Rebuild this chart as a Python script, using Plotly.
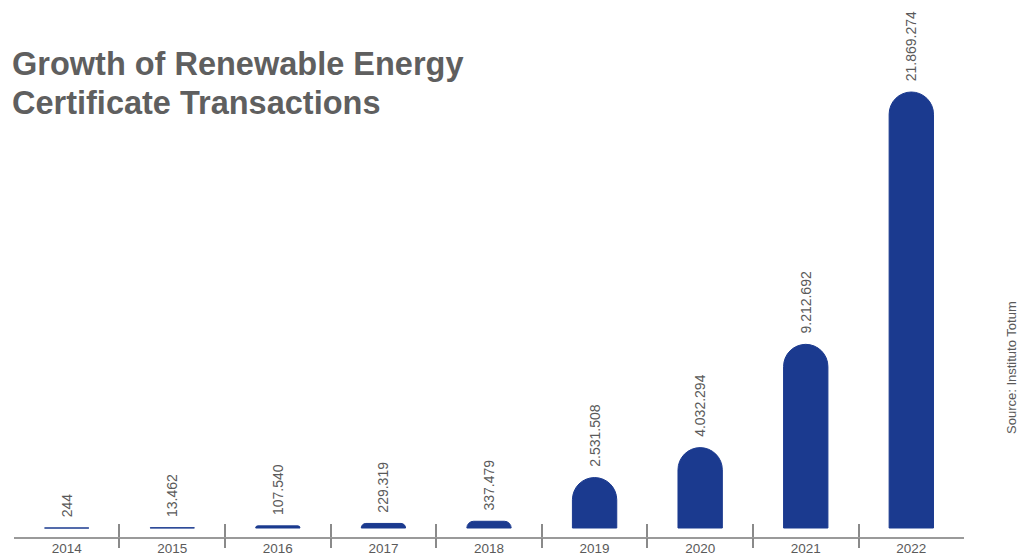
import plotly.graph_objects as go

years = ["2014", "2015", "2016", "2017", "2018", "2019", "2020", "2021", "2022"]
transactions = [244, 13462, 107540, 229319, 337479, 2531508, 4032294, 9212692, 21869274]
title_lines = ["Growth of Renewable Energy", "Certificate Transactions"]
source_text = "Source: Instituto Totum"

BAR = "#1B3A8F"
GRAY_TXT = "#5a5a5a"
FONT = "Liberation Sans, Arial, sans-serif"

labels = [f"{v:,}".replace(",", ".") for v in transactions]

fig = go.Figure()
fig.add_trace(go.Bar(
    x=years, y=transactions, width=0.42,
    text=["&nbsp;&nbsp;" + s for s in labels],
    textposition="outside", textangle=-90, constraintext="none",
    cliponaxis=False,
    textfont=dict(family=FONT, size=14, color=GRAY_TXT),
    marker=dict(color=BAR, cornerradius="50%", line=dict(color=BAR, width=1)),
    hoverinfo="skip", showlegend=False,
))
# helper (invisible) trace so the second category axis knows the categories
fig.add_trace(go.Scatter(
    x=years, y=[0] * len(years), xaxis="x2", mode="markers",
    marker=dict(opacity=0), hoverinfo="skip", showlegend=False,
))

# title: one annotation per line (line centres in pixels from top)
for line, ypix in zip(title_lines, [64, 103]):
    fig.add_annotation(
        x=-4 / 950, y=(537 - ypix) / 527, xref="paper", yref="paper",
        text="<b>" + line + "</b>", showarrow=False,
        xanchor="left", yanchor="middle", align="left",
        font=dict(family=FONT, size=32.5, color="#5f5f5f"),
    )
fig.add_annotation(
    x=(1011 - 14) / 950, y=(537 - 368) / 527, xref="paper", yref="paper",
    text=source_text, textangle=-90, showarrow=False,
    xanchor="center", yanchor="middle",
    font=dict(family=FONT, size=13, color=GRAY_TXT),
)

rng = [-0.499, 8.499]
fig.update_layout(
    width=1025, height=555,
    margin=dict(l=14, r=61, t=10, b=18),
    paper_bgcolor="white", plot_bgcolor="white",
    showlegend=False,
    xaxis=dict(
        type="category", categoryorder="array", categoryarray=years,
        range=rng, showline=True, linecolor="#9a9a9a", linewidth=1.5,
        ticks="inside", ticklen=13, tickwidth=1.5, tickcolor="#8a8a8a",
        tickson="boundaries", showgrid=False, zeroline=False,
        tickfont=dict(family=FONT, size=13.5, color=GRAY_TXT),
        ticklabelstandoff=-2,
        fixedrange=True, automargin=False,
    ),
    xaxis2=dict(
        type="category", categoryorder="array", categoryarray=years,
        overlaying="x", anchor="y", range=rng, showline=False,
        ticks="outside", ticklen=10, tickwidth=1.5, tickcolor="#8a8a8a",
        tickson="boundaries", showgrid=False, zeroline=False,
        showticklabels=False, fixedrange=True, automargin=False,
    ),
    yaxis=dict(
        range=[-451000, 25982000], visible=False, showgrid=False,
        zeroline=False, fixedrange=True, automargin=False,
    ),
)

fig.write_html("out.html")
